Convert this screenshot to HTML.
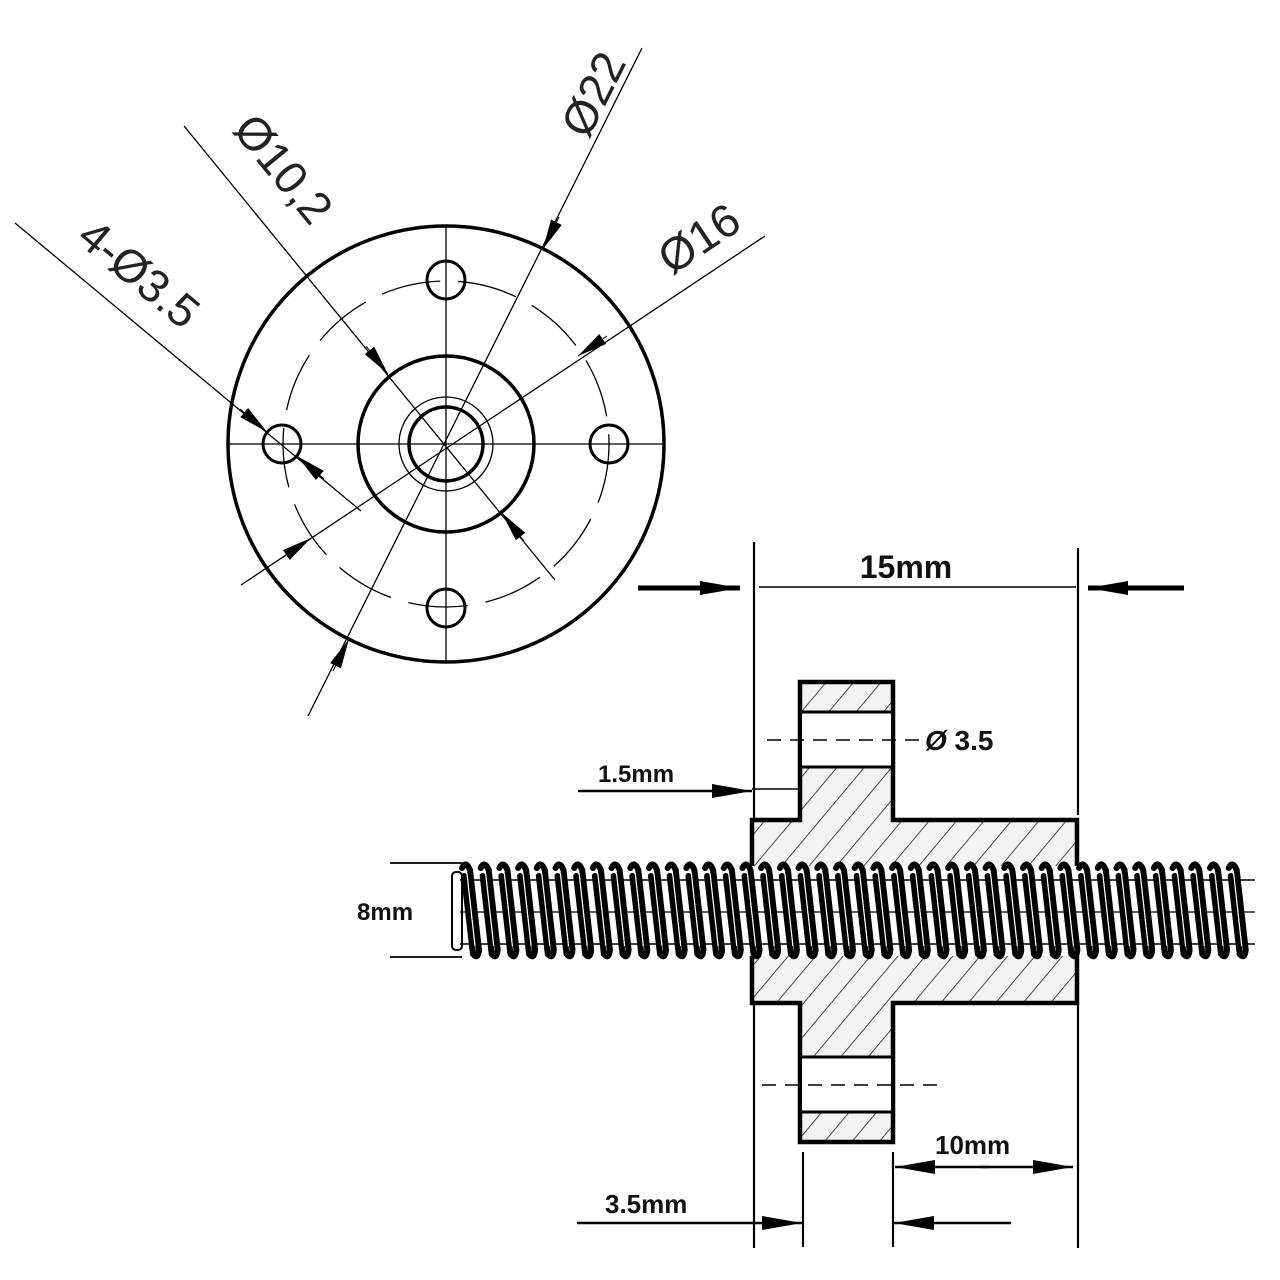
<!DOCTYPE html>
<html><head><meta charset="utf-8"><style>
html,body{margin:0;padding:0;background:#fff;}
svg{display:block}
text{font-family:"Liberation Sans",sans-serif;}
</style></head><body>
<svg width="1280" height="1280" viewBox="0 0 1280 1280" xmlns="http://www.w3.org/2000/svg">
<defs>
<marker id="a" viewBox="0 0 30 12" refX="30" refY="6" markerWidth="30" markerHeight="12" markerUnits="userSpaceOnUse" orient="auto"><path d="M0,0 L30,6 L0,12 z" fill="#000"/></marker>
<marker id="b" viewBox="0 0 40 14" refX="40" refY="7" markerWidth="40" markerHeight="14" markerUnits="userSpaceOnUse" orient="auto"><path d="M0,0 L40,7 L0,14 z" fill="#000"/></marker>
<pattern id="h" patternUnits="userSpaceOnUse" width="21" height="21" patternTransform="rotate(40)"><rect width="21" height="21" fill="#f3f3f3"/><line x1="0" y1="0" x2="0" y2="21" stroke="#222" stroke-width="1.6"/></pattern>
<g id="c">
<path d="M0,868 Q4,860 8,870 L17,950 Q16,960 11,954 L2,876" fill="none" stroke="#000" stroke-width="6" stroke-linecap="round"/>
<line x1="5" y1="874" x2="13" y2="946" stroke="#fff" stroke-width="1.2"/>
</g>
</defs>
<rect width="1280" height="1280" fill="#fff"/>

<!-- circle view -->
<g fill="none" stroke="#000">
<circle cx="446" cy="444" r="218" stroke-width="3.5"/>
<circle cx="446" cy="444" r="163" stroke-width="1.3" stroke-dasharray="60 18"/>
<circle cx="446" cy="444" r="88" stroke-width="3.5"/>
<circle cx="446" cy="444" r="47" stroke-width="1.3"/>
<circle cx="446" cy="444" r="37" stroke-width="3.5"/>
<line x1="228" y1="444" x2="664" y2="444" stroke-width="1.3"/>
<line x1="446" y1="226" x2="446" y2="663" stroke-width="1.3"/>
<circle cx="446" cy="280" r="19" stroke-width="3"/>
<circle cx="446" cy="608" r="19" stroke-width="3"/>
<circle cx="282" cy="444" r="19" stroke-width="3"/>
<circle cx="609" cy="444" r="19" stroke-width="3"/>
<line x1="642" y1="48" x2="308" y2="716" stroke-width="1.3"/>
<line x1="765" y1="236" x2="241" y2="585" stroke-width="1.3"/>
<line x1="184" y1="126" x2="555" y2="580" stroke-width="1.3"/>
<line x1="15" y1="223" x2="361" y2="511" stroke-width="1.3"/>
<line x1="559" y1="217" x2="543" y2="249" marker-end="url(#a)"/>
<line x1="333" y1="671" x2="349" y2="639" marker-end="url(#a)"/>
<line x1="607" y1="336" x2="578" y2="356" marker-end="url(#a)"/>
<line x1="282" y1="558" x2="311" y2="538" marker-end="url(#a)"/>
<line x1="366" y1="346" x2="388" y2="374" marker-end="url(#a)"/>
<line x1="524" y1="541" x2="502" y2="513" marker-end="url(#a)"/>
<line x1="240" y1="409" x2="267" y2="432" marker-end="url(#a)"/>
<line x1="324" y1="479" x2="297" y2="456" marker-end="url(#a)"/>
</g>
<g fill="#222" font-size="46">
<text transform="translate(595,95) rotate(-63.4)" text-anchor="middle" dy="14">Ø22</text>
<text transform="translate(700,240) rotate(-33.7)" text-anchor="middle" dy="14">Ø16</text>
<text transform="translate(282,170) rotate(50.7)" text-anchor="middle" dy="14">Ø10,2</text>
<text transform="translate(138,275) rotate(39.8)" text-anchor="middle" dy="14">4-Ø3.5</text>
</g>

<!-- side view dims -->
<g stroke="#000" fill="none">
<line x1="754" y1="542" x2="754" y2="1248" stroke-width="2.2"/>
<line x1="1078" y1="548" x2="1078" y2="815" stroke-width="2.2"/>
<line x1="1078" y1="1005" x2="1078" y2="1248" stroke-width="2.2"/>
<line x1="759" y1="587" x2="1076" y2="587" stroke-width="1.5"/>
<line x1="638" y1="588" x2="740" y2="588" stroke-width="5" marker-end="url(#b)"/>
<line x1="1184" y1="588" x2="1088" y2="588" stroke-width="5" marker-end="url(#b)"/>
<line x1="578" y1="791" x2="752" y2="791" stroke-width="2.5" marker-end="url(#b)"/>
<line x1="752" y1="789" x2="800" y2="789" stroke-width="1.5"/>
<line x1="803" y1="1152" x2="803" y2="1247" stroke-width="2.2"/>
<line x1="893" y1="1152" x2="893" y2="1247" stroke-width="2.2"/>
<line x1="577" y1="1223" x2="802" y2="1223" stroke-width="2.5" marker-end="url(#b)"/>
<line x1="1011" y1="1223" x2="894" y2="1223" stroke-width="2.5" marker-end="url(#b)"/>
<line x1="990" y1="1167" x2="895" y2="1167" stroke-width="2.5" marker-end="url(#b)"/>
<line x1="980" y1="1167" x2="1073" y2="1167" stroke-width="2.5" marker-end="url(#b)"/>
<line x1="390" y1="863" x2="462" y2="863" stroke-width="1.8"/>
<line x1="390" y1="957" x2="462" y2="957" stroke-width="1.8"/>
</g>
<g font-weight="bold" fill="#111">
<text x="906" y="578" font-size="32" text-anchor="middle">15mm</text>
<text x="598" y="782" font-size="24">1.5mm</text>
<text x="357" y="920" font-size="24">8mm</text>
<text x="935" y="1154" font-size="26">10mm</text>
<text x="605" y="1213" font-size="26">3.5mm</text>
<text x="925" y="750" font-size="28"><tspan font-style="italic">Ø</tspan> 3.5</text>
</g>

<!-- nut -->
<path d="M800,682 H893 V820 H1077 V1003 H893 V1142 H800 V1003 H752 V820 H800 Z" fill="url(#h)" stroke="#000" stroke-width="4.5"/>
<rect x="802" y="712" width="89" height="55" fill="#fff"/>
<rect x="802" y="1057" width="89" height="55" fill="#fff"/>
<g stroke="#000" stroke-width="3">
<line x1="800" y1="712" x2="893" y2="712"/><line x1="800" y1="767" x2="893" y2="767"/>
<line x1="800" y1="1057" x2="893" y2="1057"/><line x1="800" y1="1112" x2="893" y2="1112"/>
</g>
<line x1="767" y1="740" x2="920" y2="740" stroke="#000" stroke-width="1.6" stroke-dasharray="14 9"/>
<line x1="762" y1="1085" x2="937" y2="1085" stroke="#000" stroke-width="1.6" stroke-dasharray="14 9"/>

<!-- screw -->
<rect x="455" y="866" width="800" height="90" fill="#fff"/>
<rect x="452" y="872" width="10" height="78" rx="4" fill="none" stroke="#000" stroke-width="2"/>
<g stroke="#000" fill="none">
<line x1="460" y1="880" x2="1255" y2="880" stroke-width="1.5"/>
<line x1="460" y1="944" x2="1255" y2="944" stroke-width="1.5"/>
<line x1="460" y1="912" x2="1255" y2="912" stroke-width="1.2"/>
</g>
<use href="#c" x="462"/><use href="#c" x="480.7"/><use href="#c" x="499.4"/><use href="#c" x="518.1"/><use href="#c" x="536.8"/><use href="#c" x="555.5"/><use href="#c" x="574.2"/><use href="#c" x="592.9"/><use href="#c" x="611.6"/><use href="#c" x="630.3"/><use href="#c" x="649"/><use href="#c" x="667.7"/><use href="#c" x="686.4"/><use href="#c" x="705.1"/><use href="#c" x="723.8"/><use href="#c" x="742.5"/><use href="#c" x="761.2"/><use href="#c" x="779.9"/><use href="#c" x="798.6"/><use href="#c" x="817.3"/><use href="#c" x="836"/><use href="#c" x="854.7"/><use href="#c" x="873.4"/><use href="#c" x="892.1"/><use href="#c" x="910.8"/><use href="#c" x="929.5"/><use href="#c" x="948.2"/><use href="#c" x="966.9"/><use href="#c" x="985.6"/><use href="#c" x="1004.3"/><use href="#c" x="1023"/><use href="#c" x="1041.7"/><use href="#c" x="1060.4"/><use href="#c" x="1079.1"/><use href="#c" x="1097.8"/><use href="#c" x="1116.5"/><use href="#c" x="1135.2"/><use href="#c" x="1153.9"/><use href="#c" x="1172.6"/><use href="#c" x="1191.3"/><use href="#c" x="1210"/><use href="#c" x="1228.7"/>
</svg>
</body></html>
